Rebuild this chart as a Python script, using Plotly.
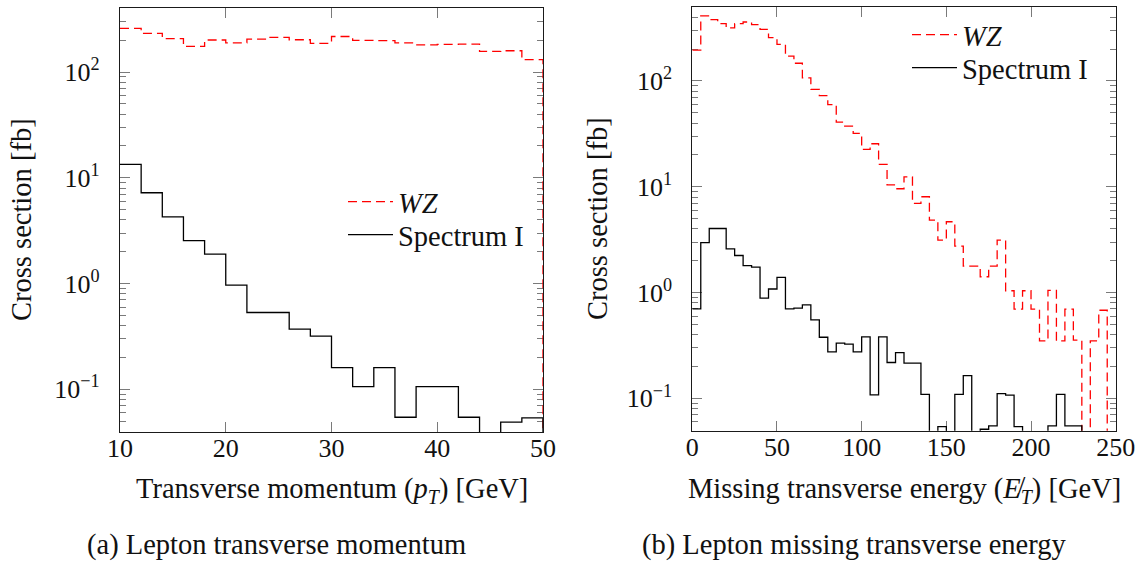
import numpy as np
import plotly.graph_objects as go

# Lepton transverse momentum: 2 GeV bins between 10 and 50 GeV
pt_edges = list(range(10, 52, 2))
pt_wz = [259, 232, 207, 175, 201, 189, 205, 213, 202, 187,
         217, 199, 198, 189, 181, 183, 184, 157, 159, 131]
pt_spec1 = [13.4, 7.22, 4.27, 2.55, 1.90, 0.966, 0.532, 0.532, 0.370, 0.318,
            0.160, 0.106, 0.160, 0.0544, 0.106, 0.106, 0.0544, 0, 0.049, 0.0537]

# Missing transverse energy: 5 GeV bins between 0 and 250 GeV
met_edges = list(range(0, 255, 5))
met_wz = [196, 412, 380, 348, 317, 348, 361, 341, 308, 257,
          222, 172, 147, 107, 83.4, 72.6, 59.7, 40.9, 37.5, 32.0,
          22.6, 25.5, 16.3, 10.4, 9.57, 12.4, 6.97, 8.04, 4.84, 3.13,
          4.67, 2.75, 1.78, 1.78, 1.41, 1.78, 3.13, 1.04, 0.697, 1.04,
          0.697, 0.349, 1.05, 0.349, 0.697, 0.355, 0, 0.349, 0.68, 0]
met_spec1 = [0.70, 2.97, 4.03, 4.03, 2.59, 2.24, 1.80, 1.74, 0.885, 1.08,
             1.39, 0.70, 0.711, 0.765, 0.552, 0.378, 0.275, 0.332, 0.325, 0.275,
             0.381, 0.108, 0.381, 0.218, 0.271, 0.215, 0.215, 0.109, 0, 0.054,
             0, 0.109, 0.164, 0, 0.051, 0.055, 0.111, 0.107, 0.054, 0,
             0, 0, 0.055, 0.109, 0.055, 0.055, 0, 0, 0, 0]

series_names = ["<i>WZ</i>", "Spectrum I"]
pt_ticks = [10, 20, 30, 40, 50]
met_ticks = [0, 50, 100, 150, 200, 250]
y_major = [0.1, 1, 10, 100]
y_major_text = ["10<sup>\u22121</sup>", "10<sup>0</sup>", "10<sup>1</sup>", "10<sup>2</sup>"]

W, H = 1140, 561
FONT = "Liberation Serif, DejaVu Serif, serif"
TEXT_SIZE = 28.5
FLOOR = 1e-4  # empty bins fall below the visible log range
RED = "#ff0000"
TICK = "#7a7a7a"


def step_y(values):
    """Per-edge y values for an hv step line that drops at the last edge."""
    v = np.asarray(values, dtype=float)
    v = np.where(v > 0, v, FLOOR)
    return list(v) + [FLOOR]


def px(x):
    return x / W


def py(y):
    return 1 - y / H


fig = go.Figure()

# (x axis, y axis, legend ids per series, edges, WZ, Spectrum I)
panels = [
    ("x", "y", ("legend", "legend2"), pt_edges, pt_wz, pt_spec1),
    ("x2", "y2", ("legend3", "legend4"), met_edges, met_wz, met_spec1),
]
for xa, ya, lgs, edges, wz, sp in panels:
    fig.add_trace(go.Scatter(
        x=edges, y=step_y(wz), mode="lines", line_shape="hv",
        line=dict(color=RED, width=1.3, dash="9px,5px"),
        name=series_names[0], xaxis=xa, yaxis=ya, legend=lgs[0],
        showlegend=True))
    fig.add_trace(go.Scatter(
        x=edges, y=step_y(sp), mode="lines", line_shape="hv",
        line=dict(color="black", width=1.3),
        name=series_names[1], xaxis=xa, yaxis=ya, legend=lgs[1],
        showlegend=True))

common = dict(
    ticks="inside", tickcolor=TICK, tickwidth=1, mirror="allticks",
    showline=True, linecolor="#1a1a1a", linewidth=1.2,
    showgrid=False, zeroline=False, layer="below traces", automargin=False,
    tickfont=dict(family=FONT, size=26, color="#111"),
)

minor_vals = [m * 10.0 ** e for e in range(-2, 3) for m in range(2, 10)]


def yaxis_cfg(domain, rng, anchor):
    return dict(
        common, domain=domain, type="log", range=rng, anchor=anchor,
        tickmode="array", tickvals=y_major, ticktext=y_major_text, ticklen=10,
        ticklabelstandoff=14,
        minor=dict(tickmode="array", tickvals=minor_vals, ticks="inside",
                   ticklen=6, tickcolor=TICK, tickwidth=1, showgrid=False),
    )


def xaxis_cfg(domain, rng, vals, anchor):
    return dict(
        common, domain=domain, range=rng, anchor=anchor,
        tickmode="array", tickvals=vals, ticktext=[str(v) for v in vals],
        ticklen=10, ticklabelstandoff=-7,
    )


legend_style = dict(visible=True, xanchor="left", yanchor="middle",
                    bgcolor="rgba(0,0,0,0)",
                    font=dict(family=FONT, size=TEXT_SIZE, color="#111"),
                    itemwidth=45, tracegroupgap=0)

fig.update_layout(
    width=W, height=H, autosize=False, showlegend=True,
    margin=dict(l=0, r=0, t=0, b=0, pad=0, autoexpand=False),
    paper_bgcolor="white", plot_bgcolor="white",
    xaxis=xaxis_cfg([px(120), px(543)], [10, 50], pt_ticks, "y"),
    yaxis=yaxis_cfg([py(432), py(8.3)], [-1.404, 2.603], "x"),
    xaxis2=xaxis_cfg([px(692.3), px(1115.7)], [0, 250], met_ticks, "y2"),
    yaxis2=yaxis_cfg([py(430.7), py(6.7)], [-1.306, 2.702], "x2"),
    legend=dict(legend_style, x=px(343), y=py(202)),
    legend2=dict(legend_style, x=px(343), y=py(235)),
    legend3=dict(legend_style, x=px(907), y=py(35)),
    legend4=dict(legend_style, x=px(907), y=py(68)),
)

text_font = dict(family=FONT, size=TEXT_SIZE, color="#111")
labels = [
    (22, 220, "Cross section [fb]", -90),
    (597, 219, "Cross section [fb]", -90),
    (331.5, 490, "Transverse momentum (<i>p<sub>T</sub></i>) [GeV]", 0),
    (904, 490, "Missing transverse energy (<i>E\u0338<sub>T</sub></i>) [GeV]", 0),
    (276, 545, "(a) Lepton transverse momentum", 0),
    (854, 545, "(b) Lepton missing transverse energy", 0),
]
for x, y, t, ang in labels:
    fig.add_annotation(x=px(x), y=py(y), xref="paper", yref="paper", text=t,
                       showarrow=False, textangle=ang, font=text_font,
                       xanchor="center", yanchor="middle")

fig.write_html("out.html")
